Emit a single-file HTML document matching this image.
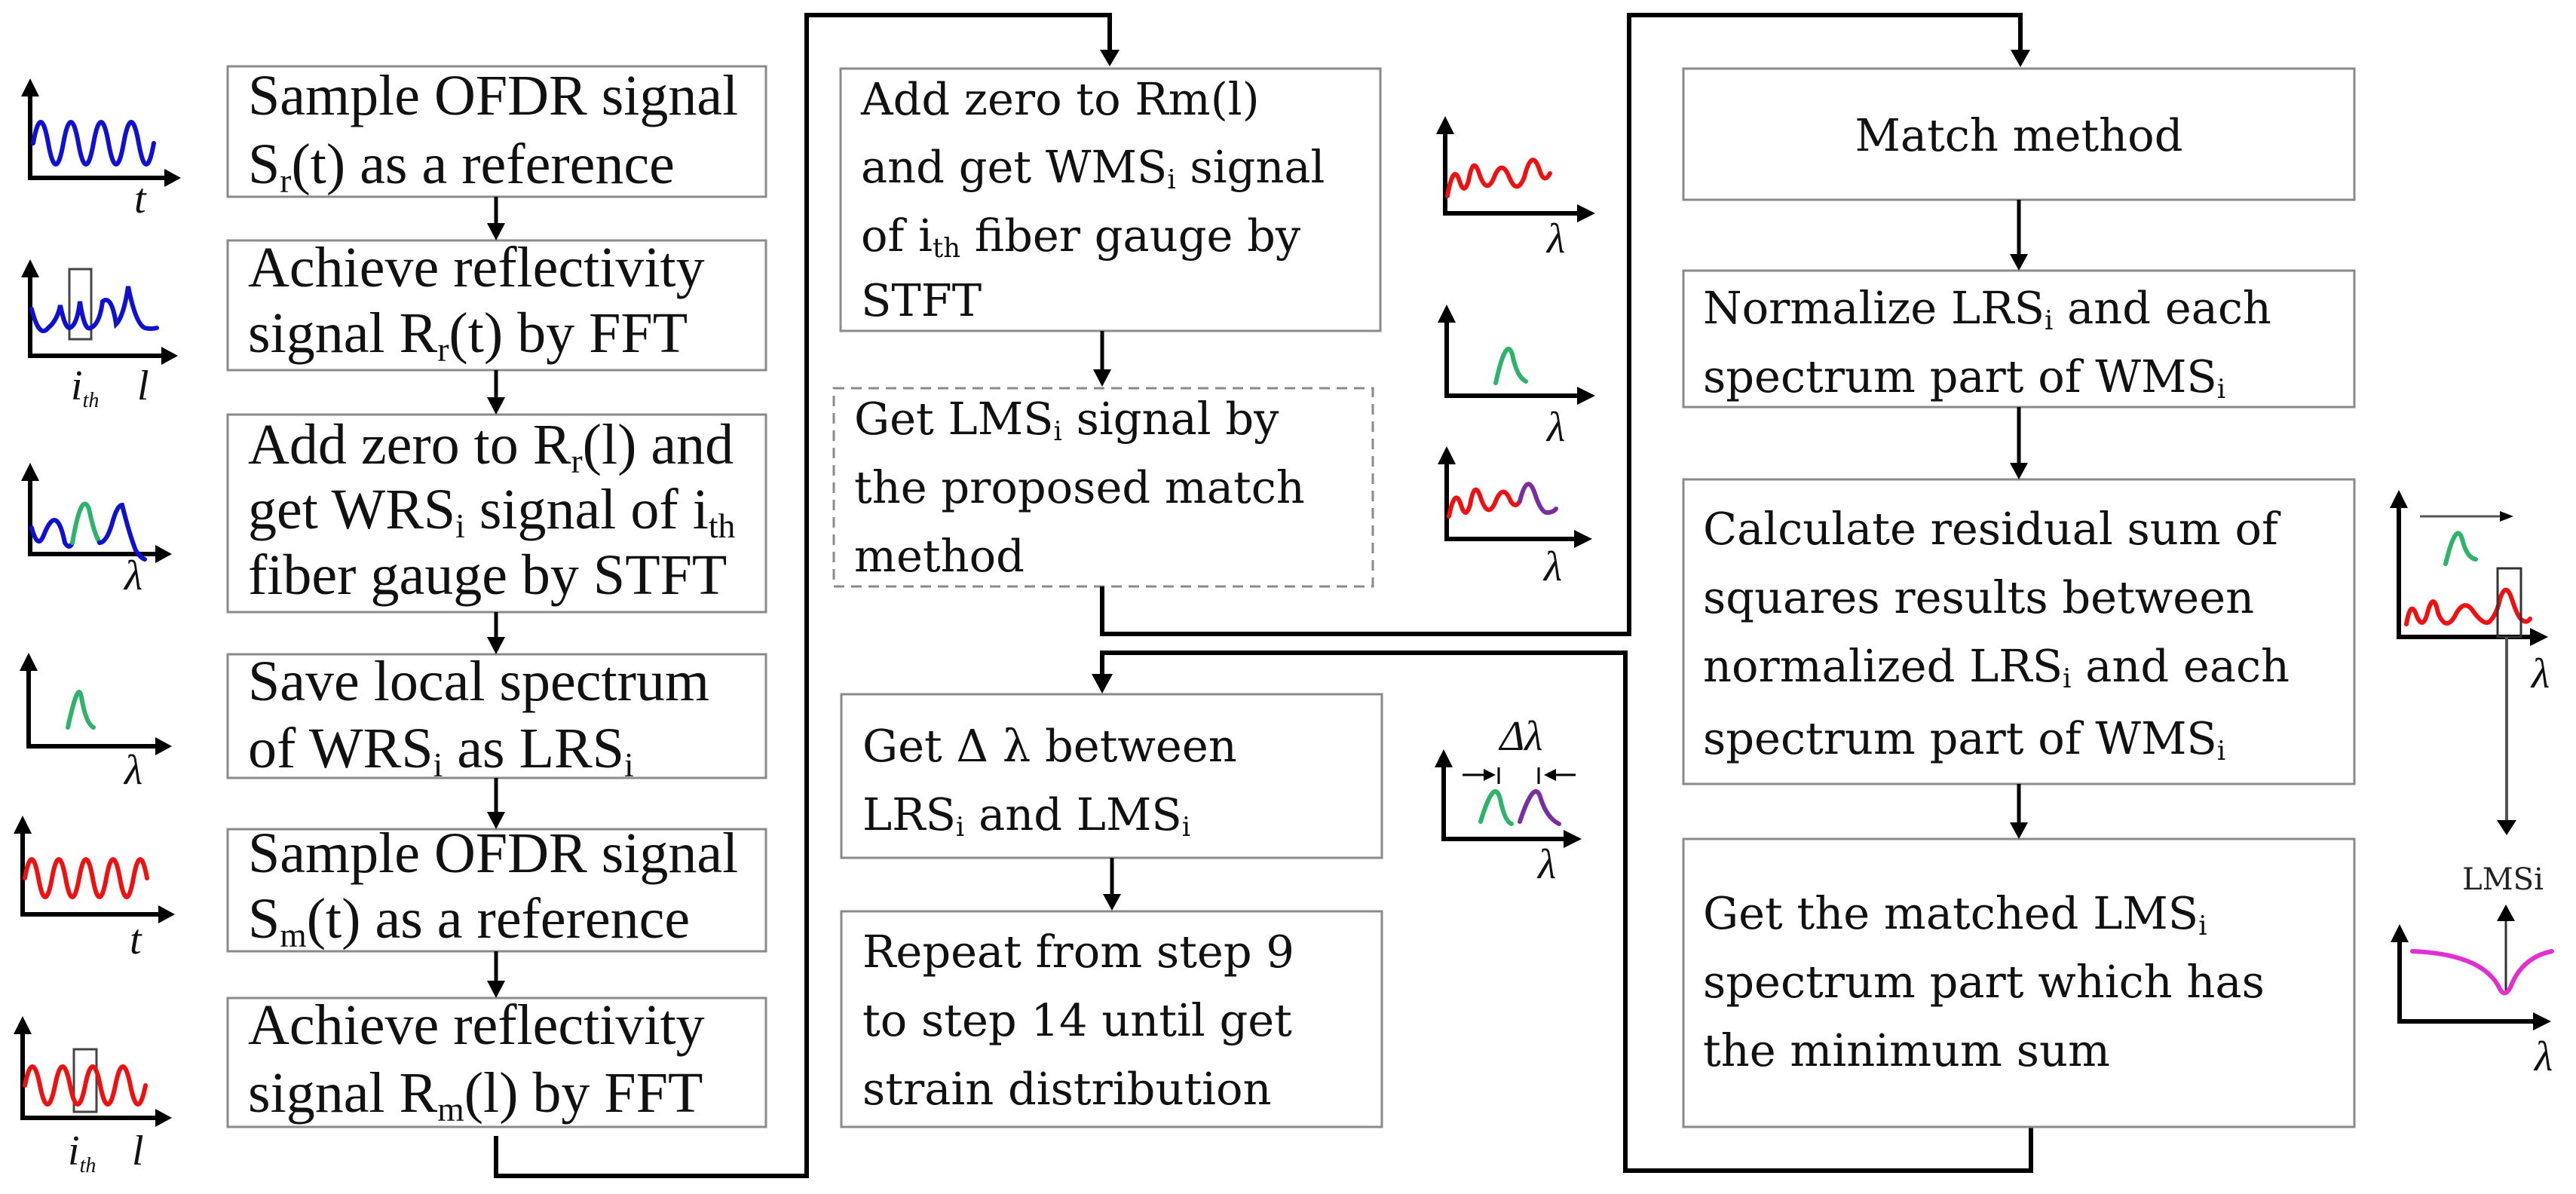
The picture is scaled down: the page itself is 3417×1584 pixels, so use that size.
<!DOCTYPE html>
<html><head><meta charset="utf-8"><style>
html,body{margin:0;padding:0;background:#fff;width:3417px;height:1584px;overflow:hidden;}
svg{display:block;}
.l{font-family:"Liberation Serif",serif;font-size:76px;fill:#111;}
.m{font-family:"DejaVu Serif","Liberation Serif",serif;font-size:59px;fill:#111;}
.sb{font-size:60%;}
.box{fill:#fff;stroke:#8a8a8a;stroke-width:3;}
.c{fill:none;stroke:#000;stroke-width:6;}
.ax{fill:none;stroke:#000;stroke-width:6;}
.lam{font-family:"Liberation Serif",serif;font-style:italic;font-size:56px;fill:#111;}
.w{fill:none;stroke-width:6;stroke-linecap:round;}
</style></head><body>
<svg width="3417" height="1584" viewBox="0 0 3417 1584" xmlns="http://www.w3.org/2000/svg">

<!-- LEFT column boxes -->
<rect class="box" x="302" y="88" width="714" height="173"/>
<rect class="box" x="302" y="319" width="714" height="172"/>
<rect class="box" x="302" y="550" width="714" height="262"/>
<rect class="box" x="302" y="868" width="714" height="164"/>
<rect class="box" x="302" y="1100" width="714" height="162"/>
<rect class="box" x="302" y="1324" width="714" height="171"/>

<text class="l" x="329" y="152">Sample OFDR signal</text>
<text class="l" x="329" y="243">S<tspan class="sb" dy="12">r</tspan><tspan dy="-12">(t) as a reference</tspan></text>
<text class="l" x="329" y="380">Achieve reflectivity</text>
<text class="l" x="329" y="467">signal R<tspan class="sb" dy="12">r</tspan><tspan dy="-12">(t) by FFT</tspan></text>
<text class="l" x="329" y="615">Add zero to R<tspan class="sb" dy="12">r</tspan><tspan dy="-12">(l) and</tspan></text>
<text class="l" x="329" y="701">get WRS<tspan class="sb" dy="12">i</tspan><tspan dy="-12"> signal of i</tspan><tspan class="sb" dy="12">th</tspan></text>
<text class="l" x="329" y="788">fiber gauge by STFT</text>
<text class="l" x="329" y="929">Save local spectrum</text>
<text class="l" x="329" y="1018">of WRS<tspan class="sb" dy="12">i</tspan><tspan dy="-12"> as LRS</tspan><tspan class="sb" dy="12">i</tspan></text>
<text class="l" x="329" y="1157">Sample OFDR signal</text>
<text class="l" x="329" y="1244">S<tspan class="sb" dy="12">m</tspan><tspan dy="-12">(t) as a reference</tspan></text>
<text class="l" x="329" y="1385">Achieve reflectivity</text>
<text class="l" x="329" y="1475">signal R<tspan class="sb" dy="12">m</tspan><tspan dy="-12">(l) by FFT</tspan></text>

<!-- left arrows -->
<g stroke="#000" stroke-width="5" fill="#000">
<line x1="658" y1="261" x2="658" y2="300"/><polygon points="646,296 670,296 658,319" stroke="none"/>
<line x1="658" y1="491" x2="658" y2="531"/><polygon points="646,527 670,527 658,550" stroke="none"/>
<line x1="658" y1="812" x2="658" y2="849"/><polygon points="646,845 670,845 658,868" stroke="none"/>
<line x1="658" y1="1032" x2="658" y2="1081"/><polygon points="646,1077 670,1077 658,1100" stroke="none"/>
<line x1="658" y1="1262" x2="658" y2="1305"/><polygon points="646,1301 670,1301 658,1324" stroke="none"/>
</g>

<!-- connector left -> middle -->
<polyline class="c" points="658,1507 658,1560 1070,1560 1070,20 1472,20 1472,70"/>
<polygon points="1459,66 1485,66 1472,88"/>

<!-- MIDDLE boxes -->
<rect class="box" x="1115" y="91" width="716" height="348"/>
<rect x="1106" y="515" width="715" height="263" fill="#fff" stroke="#8a8a8a" stroke-width="3" stroke-dasharray="14,9"/>
<rect class="box" x="1116" y="921" width="717" height="217"/>
<rect class="box" x="1116" y="1209" width="717" height="286"/>

<text class="m" x="1142" y="152">Add zero to Rm(l)</text>
<text class="m" x="1142" y="242">and get WMS<tspan class="sb" dy="8">i</tspan><tspan dy="-8"> signal</tspan></text>
<text class="m" x="1142" y="333">of i<tspan class="sb" dy="8">th</tspan><tspan dy="-8"> fiber gauge by</tspan></text>
<text class="m" x="1142" y="419">STFT</text>
<text class="m" x="1133" y="576">Get LMS<tspan class="sb" dy="8">i</tspan><tspan dy="-8"> signal by</tspan></text>
<text class="m" x="1133" y="667">the proposed match</text>
<text class="m" x="1133" y="758">method</text>
<text class="m" x="1144" y="1010">Get Δ λ  between</text>
<text class="m" x="1144" y="1101">LRS<tspan class="sb" dy="8">i</tspan><tspan dy="-8"> and LMS</tspan><tspan class="sb" dy="8">i</tspan></text>
<text class="m" x="1144" y="1283">Repeat from step 9</text>
<text class="m" x="1144" y="1374">to step 14 until get</text>
<text class="m" x="1144" y="1465">strain distribution</text>

<g stroke="#000" stroke-width="5" fill="#000">
<line x1="1462" y1="439" x2="1462" y2="492"/><polygon points="1450,490 1474,490 1462,513" stroke="none"/>
<line x1="1475" y1="1138" x2="1475" y2="1188"/><polygon points="1463,1186 1487,1186 1475,1208" stroke="none"/>
</g>

<!-- connector middle -> right -->
<polyline class="c" points="1462,778 1462,841 2161,841 2161,20 2680,20 2680,70"/>
<polygon points="2667,66 2693,66 2680,89"/>
<!-- connector right -> middle -->
<polyline class="c" points="2694,1495 2694,1553 2156,1553 2156,866 1462,866 1462,898"/>
<polygon points="1448,894 1476,894 1462,920"/>

<!-- RIGHT boxes -->
<rect class="box" x="2233" y="91" width="890" height="174"/>
<rect class="box" x="2233" y="359" width="890" height="181"/>
<rect class="box" x="2233" y="636" width="890" height="404"/>
<rect class="box" x="2233" y="1113" width="890" height="382"/>

<text class="m" x="2678" y="200" text-anchor="middle">Match method</text>
<text class="m" x="2259" y="429">Normalize LRS<tspan class="sb" dy="8">i</tspan><tspan dy="-8"> and each</tspan></text>
<text class="m" x="2259" y="520">spectrum part of WMS<tspan class="sb" dy="8">i</tspan></text>
<text class="m" x="2259" y="722">Calculate residual sum of</text>
<text class="m" x="2259" y="813">squares results between</text>
<text class="m" x="2259" y="904">normalized LRS<tspan class="sb" dy="8">i</tspan><tspan dy="-8"> and each</tspan></text>
<text class="m" x="2259" y="1000">spectrum part of WMS<tspan class="sb" dy="8">i</tspan></text>
<text class="m" x="2259" y="1232">Get the matched LMS<tspan class="sb" dy="8">i</tspan></text>
<text class="m" x="2259" y="1323">spectrum part which has</text>
<text class="m" x="2259" y="1414">the minimum sum</text>

<g stroke="#000" stroke-width="5" fill="#000">
<line x1="2678" y1="265" x2="2678" y2="340"/><polygon points="2666,337 2690,337 2678,359" stroke="none"/>
<line x1="2678" y1="540" x2="2678" y2="617"/><polygon points="2666,614 2690,614 2678,636" stroke="none"/>
<line x1="2678" y1="1040" x2="2678" y2="1094"/><polygon points="2666,1091 2690,1091 2678,1113" stroke="none"/>
</g>

<!-- Left icon 1 -->
<g>
<polyline class="ax" points="40,110 40,236 222,236"/>
<polygon points="28,128 52,128 40,104"/><polygon points="218,224 218,248 240,236"/>
<path class="w" stroke="#1010d0" d="M44,190 q10,-56 20,0 t20,0 t20,0 t20,0 t20,0 t20,0 t20,0 t20,0"/>
<text class="lam" x="178" y="282">t</text>
</g>
<!-- Left icon 2 -->
<g>
<polyline class="ax" points="40,350 40,472 218,472"/>
<polygon points="28,368 52,368 40,344"/><polygon points="214,460 214,484 236,472"/>
<rect x="92" y="357" width="29" height="93" fill="none" stroke="#444" stroke-width="3"/>
<path class="w" stroke="#1010d0" d="M42,410 q10,40 22,25 q12,-10 16,-30 q6,30 12,30 q10,-2 14,-35 q6,40 14,35 q12,-4 16,-35 q12,-10 18,30 q10,-10 16,-50 q10,50 22,55 q8,2 16,0"/>
<text class="lam" x="94" y="530" font-size="44">i<tspan font-size="28" dy="10">th</tspan></text>
<text class="lam" x="182" y="530">l</text>
</g>
<!-- Left icon 3 -->
<g>
<polyline class="ax" points="40,620 40,735 210,735"/>
<polygon points="28,638 52,638 40,614"/><polygon points="206,723 206,747 228,735"/>
<path class="w" stroke="#1010d0" d="M42,700 q8,30 16,10 q8,-20 14,-20 q8,0 14,30 q6,10 10,0"/>
<path class="w" stroke="#2eb36a" d="M96,720 q12,-70 22,-45 q6,30 14,45"/>
<path class="w" stroke="#1010d0" d="M132,720 q10,0 18,-30 q6,-20 12,-20 q10,40 18,60 q6,10 12,12"/>
<text class="lam" x="165" y="782">λ</text>
</g>
<!-- Left icon 4 -->
<g>
<polyline class="ax" points="38,872 38,990 212,990"/>
<polygon points="26,890 50,890 38,866"/><polygon points="206,978 206,1002 228,990"/>
<path class="w" stroke="#2eb36a" d="M90,965 Q104,900 108,925 Q114,960 124,965"/>
<text class="lam" x="165" y="1040">λ</text>
</g>
<!-- Left icon 5 -->
<g>
<polyline class="ax" points="30,1088 30,1213 215,1213"/>
<polygon points="18,1106 42,1106 30,1082"/><polygon points="210,1201 210,1225 232,1213"/>
<path class="w" stroke="#ee1111" d="M33,1165 q9,-50 18,0 t18,0 t18,0 t18,0 t18,0 t18,0 t18,0 t18,0 t18,0"/>
<text class="lam" x="172" y="1265">t</text>
</g>
<!-- Left icon 6 -->
<g>
<polyline class="ax" points="30,1354 30,1483 212,1483"/>
<polygon points="18,1372 42,1372 30,1348"/><polygon points="206,1471 206,1495 228,1483"/>
<rect x="98" y="1392" width="30" height="83" fill="none" stroke="#444" stroke-width="3"/>
<path class="w" stroke="#ee1111" d="M33,1440 q10,-50 20,0 t20,0 t20,0 t20,0 t20,0 t20,0 t20,0 t20,0"/>
<text class="lam" x="90" y="1545" font-size="44">i<tspan font-size="28" dy="10">th</tspan></text>
<text class="lam" x="175" y="1545">l</text>
</g>

<!-- Middle icon 1 -->
<g>
<polyline class="ax" points="1917,160 1917,283 2095,283"/>
<polygon points="1905,178 1929,178 1917,154"/><polygon points="2092,271 2092,295 2116,283"/>
<path class="w" stroke="#ee1111" d="M1920,260 q8,-45 16,-20 q6,20 12,0 q6,-35 14,-10 q10,30 20,5 q10,-25 20,0 q10,25 20,0 q10,-40 20,-10 q6,20 14,5"/>
<text class="lam" x="2052" y="335">λ</text>
</g>
<!-- Middle icon 2 -->
<g>
<polyline class="ax" points="1919,410 1919,525 2095,525"/>
<polygon points="1907,428 1931,428 1919,404"/><polygon points="2092,513 2092,537 2116,525"/>
<path class="w" stroke="#2eb36a" d="M1984,508 Q1998,445 2006,470 Q2012,500 2024,506"/>
<text class="lam" x="2052" y="585">λ</text>
</g>
<!-- Middle icon 3 -->
<g>
<polyline class="ax" points="1919,598 1919,715 2090,715"/>
<polygon points="1907,616 1931,616 1919,592"/><polygon points="2088,703 2088,727 2112,715"/>
<path class="w" stroke="#ee1111" d="M1922,685 q8,-40 16,-15 q6,20 12,0 q6,-35 14,-10 q10,30 20,5 q10,-25 20,0 q6,10 12,0"/>
<path class="w" stroke="#7a2fa0" d="M2016,665 q10,-40 20,-10 q8,25 16,25 q8,0 12,-5"/>
<text class="lam" x="2048" y="770">λ</text>
</g>
<!-- Middle icon 4 (delta lambda) -->
<g>
<polyline class="ax" points="1915,1000 1915,1113 2078,1113"/>
<polygon points="1903,1018 1927,1018 1915,994"/><polygon points="2074,1101 2074,1125 2098,1113"/>
<path class="w" stroke="#2eb36a" d="M1964,1090 Q1982,1030 1990,1060 Q1996,1090 2005,1093"/>
<path class="w" stroke="#7a2fa0" d="M2016,1090 Q2036,1030 2044,1060 Q2052,1085 2068,1093"/>
<g stroke="#000" stroke-width="3" fill="#000">
<line x1="1940" y1="1028" x2="1970" y2="1028"/><polygon points="1968,1020 1968,1036 1984,1028" stroke="none"/>
<line x1="2090" y1="1028" x2="2062" y2="1028"/><polygon points="2064,1020 2064,1036 2048,1028" stroke="none"/>
<line x1="1988" y1="1018" x2="1988" y2="1040"/><line x1="2041" y1="1018" x2="2041" y2="1040"/>
</g>
<text class="lam" x="2018" y="995" font-size="40" text-anchor="middle">Δλ</text>
<text class="lam" x="2040" y="1165">λ</text>
</g>

<!-- Right icon top -->
<g>
<polyline class="ax" points="3182,656 3182,845 3360,845"/>
<polygon points="3170,674 3194,674 3182,650"/><polygon points="3356,833 3356,857 3380,845"/>
<line x1="3210" y1="685" x2="3318" y2="685" stroke="#555" stroke-width="3"/>
<polygon points="3316,678 3316,692 3334,685"/>
<path class="w" stroke="#2eb36a" d="M3244,748 Q3258,690 3266,715 Q3272,740 3284,742"/>
<path class="w" stroke="#ee1111" d="M3192,828 q6,-35 14,-10 q8,18 14,-5 q8,-30 14,0 q10,25 22,5 q12,-25 24,-8 q14,20 22,15 q10,-10 14,-30 q8,-25 16,0 q8,25 14,28 q6,4 10,-2"/>
<rect x="3313" y="754" width="31" height="91" fill="none" stroke="#333" stroke-width="3"/>
<line x1="3325" y1="845" x2="3325" y2="1090" stroke="#555" stroke-width="4"/>
<polygon points="3312,1088 3338,1088 3325,1108"/>
<text class="lam" x="3358" y="912">λ</text>
</g>
<text x="3320" y="1180" text-anchor="middle" font-family="DejaVu Serif, Liberation Serif, serif" font-size="40" fill="#222">LMSi</text>
<!-- Right icon bottom -->
<g>
<polyline class="ax" points="3183,1232 3183,1355 3365,1355"/>
<polygon points="3171,1250 3195,1250 3183,1226"/><polygon points="3360,1343 3360,1367 3384,1355"/>
<line x1="3324" y1="1318" x2="3324" y2="1218" stroke="#333" stroke-width="3"/>
<polygon points="3312,1222 3336,1222 3324,1200"/>
<path class="w" stroke="#e030d0" d="M3200,1262 Q3250,1264 3280,1278 Q3305,1290 3315,1310 Q3322,1325 3330,1310 Q3345,1270 3385,1262"/>
<text class="lam" x="3362" y="1420">λ</text>
</g>
</svg>
</body></html>
